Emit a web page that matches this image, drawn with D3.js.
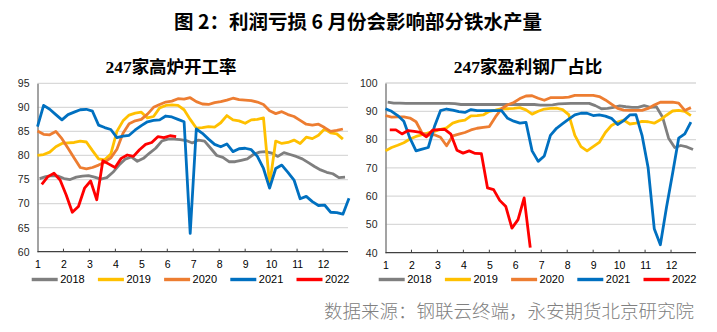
<!DOCTYPE html>
<html>
<head>
<meta charset="utf-8">
<script src="https://cdn.jsdelivr.net/npm/d3@7"></script>
<style>
  body { margin: 0; background: #fff; }
  svg { display: block; }
</style>
</head>
<body>
<svg width="717" height="332"></svg>
<script>
(function (d3) {
  'use strict';

  // weekly readings, 2018 and 2022 start a bit later in january
  const years = ['2018', '2019', '2020', '2021', '2022'];
  const firstWeek = [0.35, 0, 0, 0, 0.7];
  const monthTicks = [1, 2, 3, 4, 5, 6, 7, 8, 9, 10, 11, 12];

  // 247家高炉开工率
  const furnaceTicks = [60, 65, 70, 75, 80, 85, 90, 95];
  const furnace2018 = [75.2, 75.6, 75.8, 75.7, 75.2, 75.0, 75.5, 75.7, 75.8, 75.5, 75.1, 75.4, 76.5, 78.0, 79.2, 79.7, 78.8, 79.4, 80.5, 81.5,
    83.0, 83.4, 83.4, 83.3, 83.1, 82.6, 83.2, 83.0, 81.5, 80.0, 79.6, 78.7, 78.7, 79.0, 79.3, 80.2, 80.7, 80.8, 80.5, 79.8,
    80.6, 80.2, 79.8, 79.3, 78.5, 77.7, 77.0, 76.5, 76.2, 75.4, 75.5];
  const furnace2019 = [80.0, 80.2, 80.7, 81.8, 82.5, 82.6, 82.7, 83.0, 82.8, 81.0, 79.3, 79.1, 80.3, 85.0, 87.2, 88.4, 88.8, 89.0, 87.8, 88.1,
    89.9, 90.4, 90.5, 90.4, 89.5, 87.5, 85.7, 85.8, 86.0, 85.9, 86.8, 88.3, 87.4, 87.2, 86.7, 87.4, 87.5, 87.8, 73.9, 83.0,
    82.5, 82.7, 83.2, 82.5, 83.8, 83.5, 84.2, 85.5, 84.7, 84.5, 83.4];
  const furnace2020 = [85.1, 84.4, 84.3, 85.0, 83.5, 81.5, 79.5, 77.5, 77.2, 77.5, 78.0, 78.6, 79.5, 81.3, 84.6, 86.6, 87.2, 87.5, 88.6, 90.0,
    90.6, 91.1, 91.3, 91.8, 91.7, 92.0, 91.2, 90.7, 90.6, 91.0, 91.2, 91.5, 91.9, 91.6, 91.5, 91.4, 91.1, 90.6, 89.3, 88.7,
    89.1, 88.5, 88.1, 87.3, 86.5, 86.3, 86.5, 85.8, 85.0, 85.2, 85.5];
  const furnace2021 = [86.0, 90.4, 89.6, 88.5, 87.4, 88.5, 89.0, 89.5, 89.6, 89.2, 86.3, 85.8, 85.4, 83.7, 84.0, 84.2, 85.3, 86.2, 87.0, 87.3,
    87.4, 88.2, 88.0, 87.5, 87.0, 63.8, 85.5, 84.6, 83.4, 82.3, 81.8, 82.4, 80.8, 81.4, 81.5, 81.2, 79.8, 77.3, 73.2, 77.3,
    78.0, 76.5, 74.9, 71.0, 71.5, 70.4, 69.6, 69.7, 68.2, 68.1, 67.8, 71.1];
  const furnace2022 = [74.0, 75.6, 76.3, 74.9, 71.8, 68.2, 69.4, 73.2, 74.7, 70.8, 78.9, 78.2, 77.5, 79.4, 80.1, 79.8, 81.2, 82.3, 82.7, 83.9,
    83.7, 84.1, 83.9];

  // 247家盈利钢厂占比
  const profitTicks = [40, 50, 60, 70, 80, 90, 100];
  const profit2018 = [93.2, 92.9, 92.9, 92.8, 92.8, 92.8, 92.8, 92.8, 92.8, 92.8, 92.8, 92.7, 92.4, 92.4, 92.4, 92.4, 92.4, 92.4, 92.4, 92.4,
    92.4, 92.4, 92.4, 92.4, 92.4, 92.2, 92.2, 92.3, 92.6, 92.7, 92.8, 92.8, 92.8, 92.8, 92.0, 90.9, 91.0, 91.4, 91.9, 91.6,
    91.4, 91.4, 92.0, 91.4, 91.6, 88.0, 80.5, 77.2, 77.9, 77.4, 76.5];
  const profit2019 = [76.0, 77.2, 78.0, 78.9, 80.2, 81.1, 81.7, 82.4, 82.9, 83.6, 84.1, 85.8, 86.5, 86.9, 88.4, 88.5, 88.7, 90.0, 90.4, 90.9,
    90.9, 91.0, 91.3, 90.5, 89.0, 90.0, 90.8, 91.0, 91.1, 90.6, 88.8, 81.5, 77.5, 76.0, 77.5, 79.0, 82.5, 85.0, 86.2, 86.9,
    85.5, 85.8, 86.4, 86.3, 85.8, 87.0, 88.6, 90.1, 90.3, 90.0, 88.5];
  const profit2020 = [88.5, 87.9, 88.0, 88.0, 87.6, 86.3, 82.3, 81.6, 81.7, 80.8, 77.8, 81.3, 81.9, 82.5, 83.4, 84.0, 84.3, 84.6, 88.0, 90.9,
    92.3, 93.1, 94.5, 95.4, 95.5, 94.6, 93.9, 94.8, 94.8, 94.8, 95.0, 95.6, 95.6, 95.6, 95.6, 95.2, 94.0, 92.5, 91.0, 90.4,
    90.3, 90.3, 90.3, 91.0, 92.2, 93.2, 93.2, 93.2, 92.9, 90.3, 91.3];
  const profit2021 = [90.9, 90.0, 88.5, 86.5, 80.5, 76.0, 76.6, 77.2, 84.5, 90.2, 90.8, 90.4, 89.9, 89.6, 90.6, 90.2, 90.2, 90.2, 90.2, 90.2,
    87.5, 86.5, 85.8, 86.1, 76.0, 72.3, 74.2, 81.5, 84.0, 85.6, 87.2, 88.7, 89.3, 89.3, 88.5, 88.7, 88.3, 87.5, 85.3, 86.7,
    88.7, 88.8, 81.5, 70.0, 48.5, 42.8, 56.0, 68.0, 80.5, 82.0, 86.2];
  const profit2022 = [83.4, 83.4, 82.0, 83.2, 82.9, 82.5, 81.0, 83.3, 83.5, 83.6, 81.9, 76.2, 75.2, 76.0, 75.1, 75.0, 62.9, 62.3, 58.5, 56.3,
    48.7, 51.7, 59.4, 41.8];

  const colors = ['#7f7f7f', '#ffc000', '#ed7d31', '#0070c0', '#ff0000'];
  const weekStep = 12 / 51;

  const svg = d3.select('svg');

  svg.append('text')
    .attr('x', 358)
    .attr('y', 29)
    .attr('text-anchor', 'middle')
    .attr('font-family', '"Noto Sans CJK SC", sans-serif')
    .attr('font-weight', 'bold')
    .attr('font-size', 19.5)
    .attr('fill', '#000')
    .text('图 2：利润亏损 6 月份会影响部分铁水产量');

  svg.append('text')
    .attr('x', 694)
    .attr('y', 318)
    .attr('text-anchor', 'end')
    .attr('font-family', '"Noto Sans CJK SC", sans-serif')
    .attr('font-weight', 300)
    .attr('font-size', 18.5)
    .attr('fill', '#808080')
    .text('数据来源：钢联云终端，永安期货北京研究院');

  function drawPanel(opts) {
    const g = svg.append('g');
    const left = opts.left;
    const width = 310.5;
    const top = opts.top;
    const bottom = opts.bottom;

    const x = d3.scaleLinear().domain([1, 13]).range([left, left + 311.5]);
    const y = d3.scaleLinear().domain(d3.extent(opts.ticks)).range([bottom, top]);

    g.append('text')
      .attr('x', opts.titleX)
      .attr('y', 73)
      .attr('text-anchor', 'middle')
      .attr('font-family', '"Liberation Serif", "Noto Sans CJK SC", serif')
      .attr('font-weight', 'bold')
      .attr('font-size', 17.5)
      .attr('fill', '#000')
      .text(opts.title);

    // gridlines
    g.selectAll('line.grid')
      .data(opts.ticks.slice(1))
      .enter()
      .append('line')
      .attr('class', 'grid')
      .attr('x1', left)
      .attr('x2', left + width)
      .attr('y1', d => y(d))
      .attr('y2', d => y(d))
      .attr('stroke', '#d9d9d9')
      .attr('stroke-width', 1.3);

    const yAxis = g.append('g')
      .attr('transform', `translate(${left},0)`)
      .call(d3.axisLeft(y).tickValues(opts.ticks).tickSize(0).tickPadding(8));
    yAxis.select('.domain').attr('stroke', '#8c8c8c').attr('stroke-width', 1.6);
    yAxis.selectAll('text')
      .attr('font-family', '"Liberation Sans", Arial, sans-serif')
      .attr('font-size', 10.5)
      .attr('fill', '#262626');

    const xAxis = g.append('g')
      .attr('transform', `translate(0,${bottom})`)
      .call(d3.axisBottom(x).tickValues(monthTicks).tickSize(0).tickPadding(9).tickFormat(d3.format('d')));
    xAxis.select('.domain').attr('d', `M${left},0H${left + width}`).attr('stroke', '#404040').attr('stroke-width', 1.3);
    xAxis.selectAll('text')
      .attr('font-family', '"Liberation Sans", Arial, sans-serif')
      .attr('font-size', 10.5)
      .attr('fill', '#000');

    g.selectAll('line.xtick')
      .data(monthTicks.slice(1))
      .enter()
      .append('line')
      .attr('class', 'xtick')
      .attr('x1', d => x(d))
      .attr('x2', d => x(d))
      .attr('y1', bottom)
      .attr('y2', bottom - 3)
      .attr('stroke', '#404040')
      .attr('stroke-width', 1);

    const line = d3.line()
      .x(d => x(d.x))
      .y(d => y(d.v));

    opts.series.forEach((values, k) => {
      const pts = values.map((v, i) => ({ x: 1 + (firstWeek[k] + i) * weekStep, v: v }));
      g.append('path')
        .datum(pts)
        .attr('d', line)
        .attr('fill', 'none')
        .attr('stroke', colors[k])
        .attr('stroke-width', 2.8)
        .attr('stroke-linejoin', 'round');
    });

    // legend
    const lg = g.selectAll('g.legend')
      .data(years)
      .enter()
      .append('g')
      .attr('class', 'legend')
      .attr('transform', (d, i) => `translate(${opts.legendX + i * 66.2},279.5)`);
    lg.append('line')
      .attr('x1', 0)
      .attr('x2', 26)
      .attr('stroke', (d, i) => colors[i])
      .attr('stroke-width', 3.4);
    lg.append('text')
      .attr('x', 28.5)
      .attr('dy', '0.35em')
      .attr('font-family', '"Liberation Sans", Arial, sans-serif')
      .attr('font-size', 11)
      .attr('fill', '#000')
      .text(d => d);
  }

  drawPanel({
    title: '247家高炉开工率',
    titleX: 171,
    left: 37.5,
    top: 83.3,
    bottom: 251.7,
    ticks: furnaceTicks,
    legendX: 31.7,
    series: [furnace2018, furnace2019, furnace2020, furnace2021, furnace2022]
  });

  drawPanel({
    title: '247家盈利钢厂占比',
    titleX: 528,
    left: 385.5,
    top: 83,
    bottom: 252.7,
    ticks: profitTicks,
    legendX: 378.7,
    series: [profit2018, profit2019, profit2020, profit2021, profit2022]
  });

}(d3));
</script>
</body>
</html>
